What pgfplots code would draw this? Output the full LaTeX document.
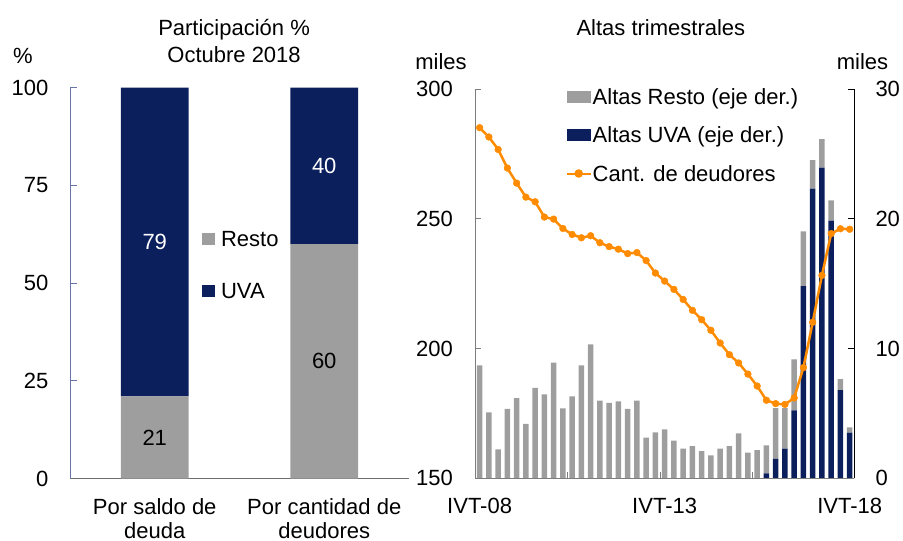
\documentclass[border=0pt]{standalone}
\usepackage{fontspec}
\setmainfont{Liberation Sans}
\usepackage{pgfplots}
\usepackage{pgfplotstable}
\pgfplotsset{compat=1.18}

\definecolor{cnavy}{RGB}{10,31,91}
\definecolor{cgray}{RGB}{158,158,158}
\definecolor{corange}{RGB}{255,140,0}
\definecolor{cslate}{RGB}{105,118,165}
\definecolor{caxis}{RGB}{110,110,110}
\definecolor{caxisb}{RGB}{125,125,125}

% x: trimestre (0 = IVT-08 ... 40 = IVT-18); deud en miles; altas en miles
\pgfplotstableread{
x  deud   uva    resto
0  285.2  0      8.70
1  281.6  0      5.07
2  276.8  0      2.21
3  269.6  0      5.33
4  263.8  0      6.17
5  258.4  0      4.17
6  256.6  0      6.95
7  250.7  0      6.46
8  249.9  0      8.90
9  246.3  0      5.38
10 244.0  0      6.30
11 242.7  0      8.70
12 243.5  0      10.32
13 240.8  0      5.97
14 239.3  0      5.79
15 238.3  0      5.92
16 236.6  0      5.33
17 237.0  0      5.97
18 233.9  0      3.12
19 229.1  0      3.53
20 226.0  0      3.76
21 222.8  0      2.89
22 218.9  0      2.27
23 214.7  0      2.47
24 211.1  0      2.08
25 207.0  0      1.75
26 202.1  0      2.27
27 197.6  0      2.47
28 194.4  0      3.45
29 190.1  0      1.96
30 185.5  0      2.16
31 180.0  0.36   2.16
32 178.7  1.47   3.93
33 178.4  2.27   3.13
34 180.9  5.22   3.94
35 192.6  14.81  4.22
36 210.1  22.33  2.21
37 228.2  23.95  2.21
38 244.3  19.86  1.57
39 246.2  6.79   0.85
40 246.0  3.50   0.41
}\altas

\begin{document}
\begin{tikzpicture}[font=\fontsize{22}{26}\selectfont]
\path[use as bounding box] (0pt,0pt) rectangle (903pt,-541pt);

% ---- panel izquierdo: participacion
\begin{axis}[
  at={(70pt,-478.5pt)}, anchor=south west,
  scale only axis, width=339pt, height=390.8pt,
  ybar stacked, bar width=0.4,
  xmin=-0.5, xmax=1.5, ymin=0, ymax=100,
  xtick={0,1},
  xticklabels={{Por saldo de\\deuda},{Por cantidad de\\deudores}},
  xtick style={draw=none},
  ytick={0,25,50,75,100},
  tick align=inside, major tick length=7pt,
  axis x line*=bottom, axis y line*=left,
  x axis line style={draw=caxis, line width=1pt, -},
  y axis line style={draw=cslate, line width=1pt, -},
  ytick style={draw=cslate, line width=1pt},
  x tick label style={align=center, anchor=north, inner sep=0pt, yshift=-19.5pt, font=\fontsize{22}{24}\selectfont},
  y tick label style={anchor=east, inner sep=0pt, xshift=-21.5pt},
  /pgf/number format/assume math mode=true,
  title={Participación \%\\Octubre 2018},
  title style={align=center, anchor=north, inner sep=0pt, at={(axis description cs:0.484,1.1607)}, font=\fontsize{22}{27}\selectfont},
  ylabel={\%},
  every axis y label/.style={at={(axis description cs:-0.1392,1.082)}, anchor=center, inner sep=0pt},
  legend style={at={(axis description cs:0.390,0.5463)}, anchor=west, draw=none, fill=none, inner sep=0pt, row sep=36.2pt,
    nodes={inner sep=0pt, text height=15.75pt, text depth=0pt},
    /tikz/every odd column/.append style={column sep=6pt}},
  legend cell align=left,
  legend image code/.code={\fill[#1] (0pt,-6.35pt) rectangle (12.7pt,6.35pt);},
]
\addplot[fill=cgray, draw=none] coordinates {(0,21) (1,60)};
\addplot[fill=cnavy, draw=none] coordinates {(0,79) (1,40)};
\legend{Resto,UVA}
\end{axis}

% ---- etiquetas de valor, en el centro de cada tramo
\begin{axis}[
  at={(70pt,-478.5pt)}, anchor=south west,
  scale only axis, width=339pt, height=390.8pt,
  xmin=-0.5, xmax=1.5, ymin=0, ymax=100,
  hide axis, clip=false,
  nodes near coords, point meta=explicit symbolic,
  nodes near coords align={center},
]
\addplot[draw=none, mark=none, every node near coord/.append style={anchor=center, text=black}]
  coordinates {(0,10.5)[21] (1,30)[60]};
\addplot[draw=none, mark=none, every node near coord/.append style={anchor=center, text=white}]
  coordinates {(0,60.5)[79] (1,80)[40]};
\end{axis}

% ---- panel derecho: barras (eje derecho)
\begin{axis}[
  at={(475pt,-478pt)}, anchor=south west,
  scale only axis, width=379.3pt, height=388.7pt,
  ybar stacked, bar width=0.6,
  xmin=-0.5, xmax=40.5, ymin=0, ymax=30,
  ytick={0,10,20,30},
  axis y line*=right, axis x line=none,
  y axis line style={draw=black, line width=1pt, -},
  ytick style={draw=black, line width=1pt},
  tick align=inside, major tick length=6pt,
  y tick label style={anchor=west, inner sep=0pt, xshift=21pt},
  /pgf/number format/assume math mode=true,
  ylabel={miles},
  every axis y label/.style={at={(axis description cs:1.0216,1.0702)}, anchor=center, inner sep=0pt},
]
\addplot[fill=cnavy, draw=none] table[x=x, y=uva] {\altas};
\addplot[fill=cgray, draw=none] table[x=x, y=resto] {\altas};
\end{axis}

% ---- panel derecho: deudores (eje izquierdo)
\begin{axis}[
  at={(475pt,-478pt)}, anchor=south west,
  scale only axis, width=379.3pt, height=388.7pt,
  xmin=-0.5, xmax=40.5, ymin=150, ymax=300,
  ytick={150,200,250,300},
  xtick={9.5,19.5,29.5}, xticklabels={},
  extra x ticks={0,20,40}, extra x tick labels={IVT-08,IVT-13,IVT-18},
  extra x tick style={major tick length=0pt},
  axis y line*=left, axis x line*=bottom,
  axis line style={draw=caxisb, line width=1pt, -},
  tick style={draw=caxisb, line width=1pt},
  tick align=inside, major tick length=6pt,
  x tick label style={anchor=north, inner sep=0pt, yshift=-20pt},
  y tick label style={anchor=east, inner sep=0pt, xshift=-22pt},
  /pgf/number format/assume math mode=true,
  title={Altas trimestrales},
  title style={anchor=north, inner sep=0pt, at={(axis description cs:0.490,1.1648)}},
  ylabel={miles},
  every axis y label/.style={at={(axis description cs:-0.0896,1.071)}, anchor=center, inner sep=0pt},
  legend style={at={(axis description cs:0.2386,0.8824)}, anchor=west, draw=none, fill=none, inner sep=0pt, row sep=22.75pt,
    nodes={inner sep=0pt, text height=15.75pt, text depth=0pt},
    /tikz/every odd column/.append style={column sep=1pt}},
  legend cell align=left,
]
\addlegendimage{legend image code/.code={\fill[cgray] (0.5pt,-5.35pt) rectangle (23.5pt,5.35pt);}}
\addlegendentry{Altas Resto (eje der.)}
\addlegendimage{legend image code/.code={\fill[cnavy] (0.5pt,-5.35pt) rectangle (23.5pt,5.35pt);}}
\addlegendentry{Altas UVA (eje der.)}
\addplot[corange, line width=2.5pt, line join=round, mark=*, mark size=3.4pt,
  mark options={fill=corange, draw=corange, line width=0.4pt},
  legend image code/.code={\draw[corange, line width=2pt] (0pt,0pt) -- (24pt,0pt); \fill[corange] (12pt,0pt) circle (3pt);}]
  table[x=x, y=deud] {\altas};
\addlegendentry{Cant. de deudores}
\end{axis}
\end{tikzpicture}
\end{document}
